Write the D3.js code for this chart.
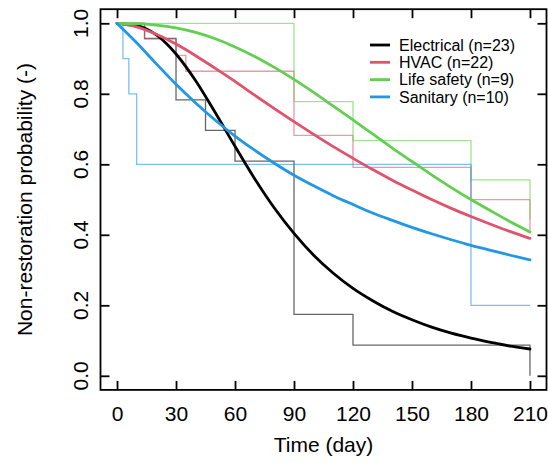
<!DOCTYPE html>
<html lang="en">
<head>
  <meta charset="UTF-8">
  <title>Non-restoration probability</title>
  <script src="https://d3js.org/d3.v7.min.js"></script>
  <style>
    body { margin: 0; background: #fff; }
    svg { display: block; font-family: "Liberation Sans", Arial, sans-serif; }
    .axis path { display: none; }
    .axis line { stroke: #000; stroke-width: 1.8; }
    .frame { fill: none; stroke: #000; stroke-width: 1.8; }
    .step { fill: none; stroke-width: 1.3; stroke-opacity: 0.6; }
    .fit { fill: none; stroke-width: 2.8; stroke-linecap: round; }
  </style>
</head>
<body>
  <svg width="548" height="463"></svg>

  <script>
    // categories
    const groups = ['Electrical (n=23)', 'HVAC (n=22)', 'Life safety (n=9)', 'Sanitary (n=10)'];
    const colors = ['#000000', '#DF536B', '#61D04F', '#2297E6'];

    // observed (step) curves
    const electricalStepDays = [0, 14, 30, 45, 60, 90, 120, 210];
    const electricalStepProb = [1, 0.957, 0.783, 0.696, 0.609, 0.174, 0.087, 0];
    const hvacStepDays = [0, 14, 30, 35, 90, 120, 180, 210];
    const hvacStepProb = [1, 0.955, 0.909, 0.864, 0.682, 0.591, 0.5, 0.409];
    const lifeSafetyStepDays = [0, 90, 120, 180, 210];
    const lifeSafetyStepProb = [1, 0.778, 0.667, 0.556, 0.444];
    const sanitaryStepDays = [0, 3, 6, 10, 180, 210];
    const sanitaryStepProb = [1, 0.9, 0.8, 0.6, 0.2, 0.2];

    // fitted (smooth) curves
    const fitDays = [0, 10, 20, 30, 40, 50, 60, 70, 80, 90, 100, 110, 120, 130, 140, 150, 160, 170, 180, 190, 200, 210];
    const electricalFit = [1, 0.994, 0.967, 0.913, 0.837, 0.746, 0.651, 0.559, 0.476, 0.404, 0.342, 0.291, 0.248, 0.213, 0.183, 0.159, 0.138, 0.121, 0.107, 0.095, 0.084, 0.076];
    const hvacFit = [1, 0.990, 0.969, 0.941, 0.908, 0.872, 0.835, 0.796, 0.758, 0.721, 0.685, 0.650, 0.617, 0.585, 0.555, 0.527, 0.500, 0.475, 0.452, 0.430, 0.409, 0.390];
    const lifeSafetyFit = [1, 0.999, 0.995, 0.987, 0.974, 0.956, 0.933, 0.906, 0.875, 0.841, 0.804, 0.765, 0.726, 0.686, 0.646, 0.608, 0.570, 0.534, 0.500, 0.468, 0.437, 0.408];
    const sanitaryFit = [1, 0.945, 0.885, 0.827, 0.774, 0.725, 0.680, 0.640, 0.603, 0.569, 0.539, 0.511, 0.486, 0.462, 0.441, 0.421, 0.403, 0.386, 0.370, 0.356, 0.342, 0.329];

    // tick labels
    const xTicks = [0, 30, 60, 90, 120, 150, 180, 210];
    const yTicks = [0, 0.2, 0.4, 0.6, 0.8, 1.0];

    const stepSeries = [
      [electricalStepDays, electricalStepProb],
      [hvacStepDays, hvacStepProb],
      [lifeSafetyStepDays, lifeSafetyStepProb],
      [sanitaryStepDays, sanitaryStepProb]
    ];
    const fitSeries = [electricalFit, hvacFit, lifeSafetyFit, sanitaryFit];

    const plot = { left: 100.5, right: 546.5, top: 9.2, bottom: 389.9 };

    const svg = d3.select('svg');

    const x = d3.scaleLinear()
      .domain([-8.4, 218.4])
      .range([plot.left, plot.right]);

    const y = d3.scaleLinear()
      .domain([-0.04, 1.04])
      .range([plot.bottom, plot.top]);

    // steps
    const stepLine = d3.line()
      .x(d => x(d[0]))
      .y(d => y(d[1]))
      .curve(d3.curveStepAfter);

    svg.selectAll('.step')
      .data(stepSeries)
      .enter()
      .append('path')
      .attr('class', 'step')
      .attr('stroke', (d, i) => colors[i])
      .attr('d', d => stepLine(d[0].map((t, j) => [t, d[1][j]])));

    // fitted curves
    const fitLine = d3.line()
      .x(d => x(d[0]))
      .y(d => y(d[1]))
      .curve(d3.curveMonotoneX);

    svg.selectAll('.fit')
      .data(fitSeries)
      .enter()
      .append('path')
      .attr('class', 'fit')
      .attr('stroke', (d, i) => colors[i])
      .attr('d', d => fitLine(fitDays.map((t, j) => [t, d[j]])));

    // axes, ticks pointing inward on all four sides
    const tickLen = 9;
    svg.append('g')
      .attr('class', 'axis')
      .attr('transform', `translate(0, ${plot.bottom})`)
      .call(d3.axisBottom(x).tickValues(xTicks).tickSize(-tickLen).tickPadding(16))
      .selectAll('text')
      .attr('font-size', 21)
      .attr('font-family', '"Liberation Sans", Arial, sans-serif')
      .attr('fill', '#000');

    svg.append('g')
      .attr('class', 'axis')
      .attr('transform', `translate(0, ${plot.top})`)
      .call(d3.axisTop(x).tickValues(xTicks).tickSize(-tickLen).tickFormat(''));

    svg.append('g')
      .attr('class', 'axis')
      .attr('transform', `translate(${plot.left}, 0)`)
      .call(d3.axisLeft(y).tickValues(yTicks).tickSize(-tickLen).tickFormat(''));

    svg.append('g')
      .attr('class', 'axis')
      .attr('transform', `translate(${plot.right}, 0)`)
      .call(d3.axisRight(y).tickValues(yTicks).tickSize(-tickLen).tickFormat(''));

    // y tick labels, rotated as in R
    svg.append('g')
      .selectAll('text')
      .data(yTicks)
      .enter()
      .append('text')
      .attr('transform', d => `translate(88, ${y(d)}) rotate(-90)`)
      .attr('text-anchor', 'middle')
      .attr('font-size', 21)
      .text(d => d3.format('.1f')(d));

    svg.append('rect')
      .attr('class', 'frame')
      .attr('x', plot.left)
      .attr('y', plot.top)
      .attr('width', plot.right - plot.left)
      .attr('height', plot.bottom - plot.top);

    // axis titles
    svg.append('text')
      .attr('x', (plot.left + plot.right) / 2)
      .attr('y', 452)
      .attr('text-anchor', 'middle')
      .attr('font-size', 21)
      .text('Time (day)');

    svg.append('text')
      .attr('transform', `translate(32, ${(plot.top + plot.bottom) / 2}) rotate(-90)`)
      .attr('text-anchor', 'middle')
      .attr('font-size', 21)
      .text('Non-restoration probability (-)');

    // legend
    const legend = svg.append('g')
      .selectAll('g')
      .data(groups)
      .enter()
      .append('g')
      .attr('transform', (d, i) => `translate(370, ${45 + i * 17.3})`);

    legend.append('line')
      .attr('x1', 0)
      .attr('x2', 20)
      .attr('stroke', (d, i) => colors[i])
      .attr('stroke-width', 2.8);

    legend.append('text')
      .attr('x', 29)
      .attr('dy', '0.35em')
      .attr('font-size', 16)
      .text(d => d);
  </script>
</body>
</html>
